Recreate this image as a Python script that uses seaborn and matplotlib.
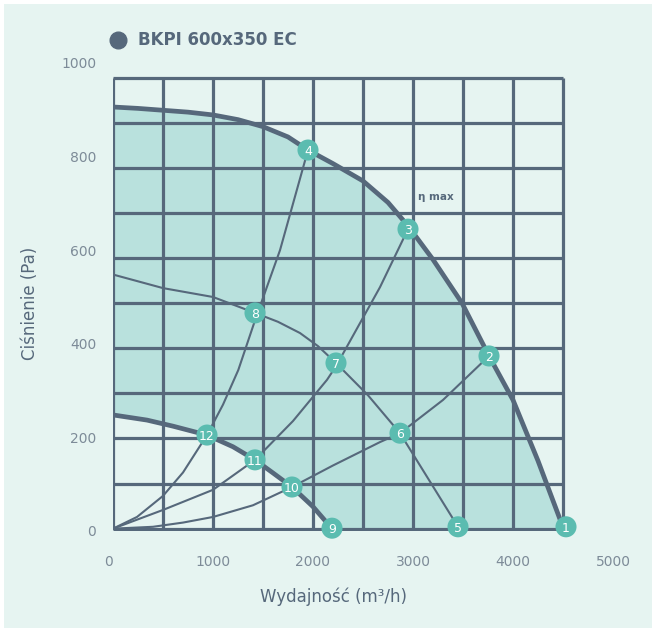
import numpy as np
import pandas as pd
import seaborn as sns
import matplotlib.pyplot as plt
from matplotlib.patches import Rectangle

'''
0) data read off the chart (flow m3/h, pressure Pa)
'''
# fan curve at max speed
max_q = [0, 250, 500, 750, 1000, 1250, 1500, 1750, 1950, 2200, 2500, 2750, 2950, 3200, 3490, 3760, 4000, 4250, 4500]
max_p = [906, 903, 899, 895, 889, 879, 864, 842, 814, 785, 748, 702, 652, 580, 487, 374, 280, 150, 8]

# fan curve at min speed
min_q = [0, 340, 600, 940, 1200, 1420, 1600, 1790, 2000, 2190]
min_p = [248, 237, 224, 205, 180, 152, 124, 94, 52, 5]

# system curves
sysA_q = [0, 240, 500, 700, 940, 1100, 1253, 1420, 1670, 1950]
sysA_p = [5, 30, 75, 125, 205, 270, 344, 450, 600, 814]
sysB_q = [0, 500, 1000, 1420, 1800, 2140, 2230, 2670, 2950]
sysB_p = [5, 45, 88, 152, 235, 323, 352, 521, 645]
sysC_q = [0, 400, 700, 1000, 1400, 1790, 2200, 2670, 2870, 3300, 3760]
sysC_p = [5, 9, 18, 30, 55, 94, 140, 190, 209, 280, 374]

# mid speed curve
mid_q = [0, 500, 1000, 1420, 1650, 1870, 2050, 2230, 2550, 2870, 3450]
mid_p = [548, 519, 500, 466, 447, 423, 395, 359, 290, 209, 9]

# numbered points
pt_id = ['1', '2', '3', '4', '5', '6', '7', '8', '9', '10', '11', '12']
pt_q = [4530, 3760, 2950, 1950, 3450, 2870, 2230, 1420, 2190, 1790, 1420, 940]
pt_p = [9, 374, 645, 814, 9, 209, 359, 466, 6, 94, 152, 205]

x_ticks = [0, 1000, 2000, 3000, 4000, 5000]
y_ticks = [0, 200, 400, 600, 800, 1000]

title = 'BKPI 600x350 EC'
xlab = 'Wydajność (m³/h)'
ylab = 'Ciśnienie (Pa)'

'''
1) style
'''
slate = '#56687b'
teal = '#5bbcb0'
fill_c = '#b9e1dd'
bg = '#e6f4f1'
tick_c = '#7d8b98'

sns.set_style('white')
plt.rcParams['font.family'] = ['DejaVu Sans']

fig = plt.figure(figsize=(6.52, 6.28), dpi=100)
fig.patch.set_facecolor('white')
fig.patches.append(Rectangle((4/652, 0), 1, 624/628, transform=fig.transFigure,
                             facecolor=bg, edgecolor='none', zorder=-10))

ax = fig.add_axes([113/652, 97/628, 500/652, 468/628])
ax.set_facecolor('none')
ax.set_xlim(0, 5000)
ax.set_ylim(0, 1000)
for s in ax.spines.values():
    s.set_visible(False)

'''
2) fill between max and min curve
'''
poly_q = max_q + min_q[::-1]
poly_p = max_p[:-1] + [5] + min_p[::-1]
ax.fill(poly_q, poly_p, color=fill_c, lw=0, zorder=1)

'''
3) grid
'''
grid_y = np.linspace(5, 969, 11)
ax.vlines(np.arange(0, 4501, 500), 5, 969, color=slate, lw=2.3, zorder=2)
ax.hlines(grid_y, 0, 4500, color=slate, lw=2.3, zorder=2)

'''
4) curves
'''
for q, p in [(sysA_q, sysA_p), (sysB_q, sysB_p), (sysC_q, sysC_p), (mid_q, mid_p)]:
    sns.lineplot(x=q, y=p, sort=False, color=slate, lw=1.5, ax=ax, zorder=3)
for q, p in [(max_q, max_p), (min_q, min_p)]:
    sns.lineplot(x=q, y=p, sort=False, color=slate, lw=3.4, ax=ax, zorder=3)

sns.scatterplot(x=pt_q, y=pt_p, s=230, color=teal, edgecolor='none', ax=ax,
                zorder=5, clip_on=False)
for i, q, p in zip(pt_id, pt_q, pt_p):
    ax.text(q, p, i, color='white', fontsize=9, ha='center', va='center_baseline', zorder=6)

ax.text(3230, 714, 'η max', color=slate, fontsize=7.5, fontweight='bold',
        ha='center', va='center', zorder=6)

'''
5) ticks / labels
'''
ax.set_xticks(x_ticks)
ax.set_yticks(y_ticks)
ax.tick_params(length=0, labelsize=10, labelcolor=tick_c)
ax.tick_params(axis='x', pad=17)
ax.tick_params(axis='y', pad=12)
ax.set_xlabel('')
ax.set_ylabel('')
ax.get_xticklabels()[0].set_horizontalalignment('right')

ax.plot([50], [1049], 'o', ms=12, color=slate, clip_on=False)
ax.text(250, 1049, title, color=slate, fontsize=12, fontweight='bold',
        ha='left', va='center')

fig.text(334/652, 1 - 597/628, xlab, color=slate, fontsize=12, ha='center', va='center')
fig.text(30/652, 1 - 303/628, ylab, color=slate, fontsize=12, ha='center', va='center',
         rotation=90)

plt.savefig('out.png', dpi=100, facecolor=fig.get_facecolor())
